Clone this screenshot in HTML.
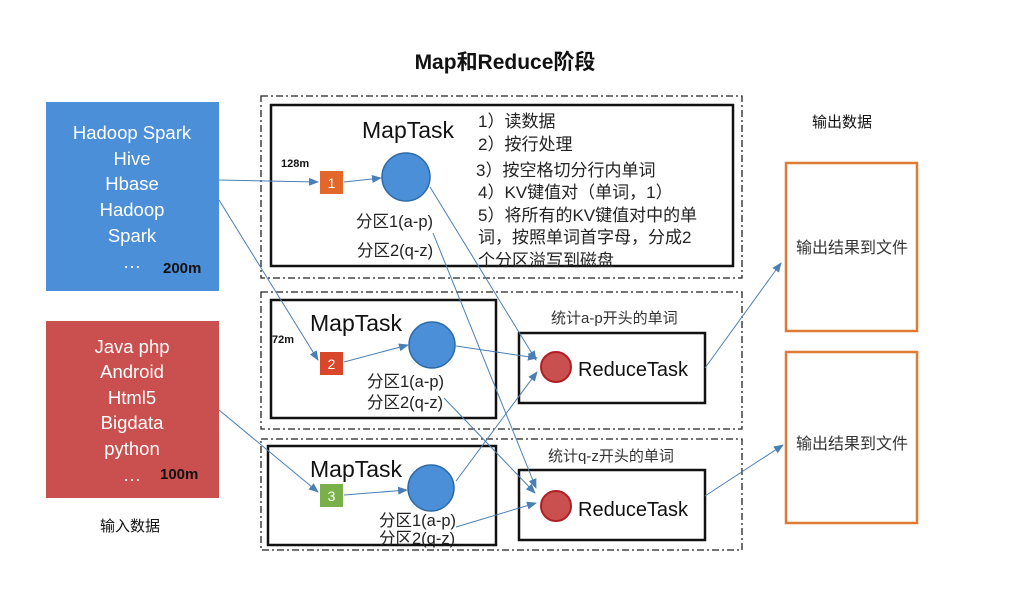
<!DOCTYPE html>
<html><head><meta charset="utf-8"><style>
html,body{margin:0;padding:0;background:#fff;}
svg{display:block;}
text{font-family:"Liberation Sans","Noto Sans CJK SC",sans-serif;}
</style></head><body>
<svg width="1016" height="595" viewBox="0 0 1016 595" xmlns="http://www.w3.org/2000/svg">
<defs>
<marker id="a" markerWidth="10" markerHeight="8" refX="9" refY="4" orient="auto" markerUnits="userSpaceOnUse">
<path d="M0,0 L10,4 L0,8 z" fill="#4a7fb5"/></marker>
</defs>
<rect width="1016" height="595" fill="#fff"/>
<text x="505" y="69" font-size="21" font-weight="bold" text-anchor="middle" fill="#111">Map和Reduce阶段</text>

<rect x="46" y="102" width="173" height="189" fill="#4a8fd8"/>
<g fill="#fff" font-size="18.5" text-anchor="middle">
<text x="132" y="139">Hadoop Spark</text>
<text x="132" y="165">Hive</text>
<text x="132" y="190">Hbase</text>
<text x="132" y="216">Hadoop</text>
<text x="132" y="242">Spark</text>
<text x="132" y="268">…</text>
</g>
<text x="163" y="273" font-size="15" font-weight="bold" fill="#111">200m</text>

<rect x="46" y="321" width="173" height="177" fill="#c9504f"/>
<g fill="#fff" font-size="18.5" text-anchor="middle">
<text x="132" y="353">Java php</text>
<text x="132" y="378">Android</text>
<text x="132" y="404">Html5</text>
<text x="132" y="429">Bigdata</text>
<text x="132" y="455">python</text>
<text x="132" y="481">…</text>
</g>
<text x="160" y="479" font-size="15" font-weight="bold" fill="#111">100m</text>
<text x="100" y="531" font-size="15" fill="#111">输入数据</text>
<text x="812" y="127" font-size="15" fill="#111">输出数据</text>

<g fill="none" stroke="#222" stroke-width="1.3" stroke-dasharray="7,3,2,3">
<rect x="261" y="96" width="481" height="182"/>
<rect x="261" y="292" width="481" height="137"/>
<rect x="261" y="439" width="481" height="111"/>
</g>
<g fill="none" stroke="#111" stroke-width="2.5">
<rect x="271" y="105" width="462" height="161"/>
<rect x="271" y="300" width="225" height="118"/>
<rect x="519" y="333" width="186" height="70"/>
<rect x="268" y="446" width="228" height="99"/>
<rect x="519" y="470" width="186" height="70"/>
</g>
<g fill="none" stroke="#e07b35" stroke-width="2.5">
<rect x="786" y="163" width="131" height="168"/>
<rect x="786" y="352" width="131" height="171"/>
</g>
<text x="796" y="253" font-size="16" fill="#333">输出结果到文件</text>
<text x="796" y="449" font-size="16" fill="#333">输出结果到文件</text>

<text x="362" y="138" font-size="23" fill="#111">MapTask</text>
<text x="281" y="167" font-size="11" font-weight="bold" fill="#111">128m</text>
<g font-size="16.5" fill="#222">
<text x="356" y="227">分区1(a-p)</text>
<text x="357" y="256">分区2(q-z)</text>
</g>
<g font-size="17" fill="#222">
<text x="478" y="127">1）读数据</text>
<text x="478" y="150">2）按行处理</text>
<text x="476" y="176">3）按空格切分行内单词</text>
<text x="478" y="198">4）KV键值对（单词，1）</text>
<text x="478" y="221">5）将所有的KV键值对中的单</text>
<text x="478" y="243">词，按照单词首字母，分成2</text>
<text x="478" y="266">个分区溢写到磁盘</text>
</g>
<text x="310" y="331" font-size="23" fill="#111">MapTask</text>
<text x="272" y="343" font-size="11" font-weight="bold" fill="#111">72m</text>
<text x="367" y="387" font-size="16.5" fill="#222">分区1(a-p)</text>
<text x="367" y="408" font-size="16.5" fill="#222">分区2(q-z)</text>
<text x="310" y="477" font-size="23" fill="#111">MapTask</text>
<text x="379" y="526" font-size="16.5" fill="#222">分区1(a-p)</text>
<text x="379" y="544" font-size="16.5" fill="#222">分区2(q-z)</text>

<text x="551" y="323" font-size="15" fill="#333">统计a-p开头的单词</text>
<text x="548" y="461" font-size="15" fill="#333">统计q-z开头的单词</text>
<text x="578" y="376" font-size="20" fill="#111">ReduceTask</text>
<text x="578" y="516" font-size="20" fill="#111">ReduceTask</text>

<g fill="#4a8fd8" stroke="#2f6aa5" stroke-width="1.5">
<circle cx="406" cy="177" r="24"/>
<circle cx="432" cy="345" r="23"/>
<circle cx="431" cy="488" r="23"/>
</g>
<g fill="#c9504f" stroke="#b01f25" stroke-width="2">
<circle cx="556" cy="367" r="15"/>
<circle cx="556" cy="506" r="15"/>
</g>
<rect x="320" y="171" width="23" height="23" fill="#e3662a"/>
<text x="331.5" y="188" font-size="14" fill="#fff" text-anchor="middle">1</text>
<rect x="320" y="352" width="23" height="23" fill="#d8472a"/>
<text x="331.5" y="369" font-size="14" fill="#fff" text-anchor="middle">2</text>
<rect x="320" y="484" width="23" height="23" fill="#7ab04a"/>
<text x="331.5" y="501" font-size="14" fill="#fff" text-anchor="middle">3</text>

<g stroke="#4a7fb5" stroke-width="1" fill="none" marker-end="url(#a)">
<line x1="219" y1="180" x2="318" y2="182"/>
<line x1="219" y1="200" x2="318" y2="360"/>
<line x1="219" y1="410" x2="318" y2="492"/>
<line x1="344" y1="182" x2="381" y2="178"/>
<line x1="344" y1="362" x2="408" y2="345"/>
<line x1="344" y1="495" x2="407" y2="490"/>
<line x1="430" y1="187" x2="536" y2="360"/>
<line x1="433" y1="233" x2="536" y2="488"/>
<line x1="456" y1="346" x2="537" y2="358"/>
<line x1="444" y1="398" x2="535" y2="493"/>
<line x1="456" y1="481" x2="537" y2="372"/>
<line x1="456" y1="527" x2="536" y2="503"/>
<line x1="705" y1="368" x2="781" y2="263"/>
<line x1="705" y1="496" x2="783" y2="445"/>
</g>
</svg>
</body></html>
